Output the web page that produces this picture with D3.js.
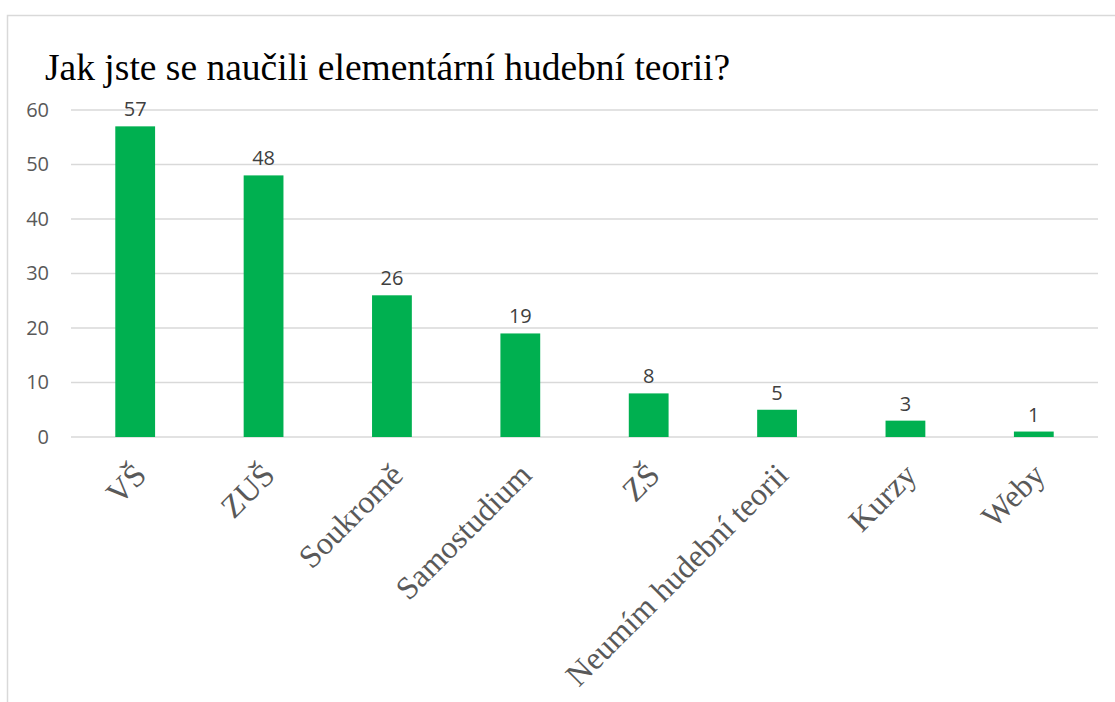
<!DOCTYPE html>
<html>
<head>
<meta charset="utf-8">
<script src="https://cdn.jsdelivr.net/npm/d3@7"></script>
<style>
  body { margin: 0; background: #fff; }
  .tick text { font-family: "Open Sans", "Liberation Sans", sans-serif; }
</style>
</head>
<body>
<div id="chart-area"></div>
<script>
// chart data
var categories = ["VŠ", "ZUŠ", "Soukromě", "Samostudium", "ZŠ", "Neumím hudební teorii", "Kurzy", "Weby"];
var values = [57, 48, 26, 19, 8, 5, 3, 1];
var yTicks = [0, 10, 20, 30, 40, 50, 60];
var title = "Jak jste se naučili elementární hudební teorii?";

var W = 1115, H = 702;
var margin = { left: 71, right: 17, top: 110, bottom: 265 };
var width = W - margin.left - margin.right;
var height = H - margin.top - margin.bottom;

var svg = d3.select("#chart-area")
    .append("svg")
    .attr("width", W)
    .attr("height", H);

// outer frame
svg.append("path")
    .attr("d", "M7.5," + H + " V15.5 H" + W)
    .attr("fill", "none")
    .attr("stroke", "#d9d9d9")
    .attr("stroke-width", 1.5);

// title
svg.append("text")
    .attr("x", 45)
    .attr("y", 80)
    .attr("font-family", "Liberation Serif, Times New Roman, serif")
    .attr("font-size", "37.5px")
    .attr("fill", "#000")
    .text(title);

var g = svg.append("g")
    .attr("transform", "translate(" + margin.left + "," + margin.top + ")");

var x = d3.scaleBand()
    .domain(categories)
    .range([0, width])
    .padding(0);

var y = d3.scaleLinear()
    .domain([0, 60])
    .range([height, 0]);

// gridlines
g.append("g")
    .attr("class", "grid")
    .selectAll("line")
    .data(yTicks)
    .enter()
    .append("line")
        .attr("x1", 0)
        .attr("x2", width)
        .attr("y1", function(d){ return y(d); })
        .attr("y2", function(d){ return y(d); })
        .attr("stroke", "#d9d9d9")
        .attr("stroke-width", 1.5);

// y axis labels
var yAxisCall = d3.axisLeft(y).tickValues(yTicks).tickSize(0).tickPadding(22);
var yAxis = g.append("g")
    .attr("class", "y axis")
    .call(yAxisCall);
yAxis.select(".domain").remove();
yAxis.selectAll("text")
    .attr("font-size", "20px")
    .attr("fill", "#595959");

// bars
var barW = x.bandwidth() * 0.31;
g.selectAll("rect")
    .data(values)
    .enter()
    .append("rect")
        .attr("x", function(d, i){ return x(categories[i]) + x.bandwidth() / 2 - barW / 2; })
        .attr("y", function(d){ return y(d); })
        .attr("width", barW)
        .attr("height", function(d){ return height - y(d); })
        .attr("fill", "#00b050");

// value labels
g.selectAll(".value")
    .data(values)
    .enter()
    .append("text")
        .attr("class", "value")
        .attr("x", function(d, i){ return x(categories[i]) + x.bandwidth() / 2; })
        .attr("y", function(d){ return y(d) - 10; })
        .attr("text-anchor", "middle")
        .attr("font-family", "Open Sans, Liberation Sans, sans-serif")
        .attr("font-size", "20px")
        .attr("fill", "#404040")
        .text(function(d){ return d; });

// category labels, rotated
g.selectAll(".cat")
    .data(categories)
    .enter()
    .append("text")
        .attr("class", "cat")
        .attr("transform", function(d){
            return "translate(" + (x(d) + x.bandwidth() / 2 + 5) + "," + (height + 32) + ") rotate(-45)";
        })
        .attr("text-anchor", "end")
        .attr("dy", "0.35em")
        .attr("font-family", "Liberation Serif, Times New Roman, serif")
        .attr("font-size", "32px")
        .attr("fill", "#595959")
        .text(function(d){ return d; });
</script>
</body>
</html>
